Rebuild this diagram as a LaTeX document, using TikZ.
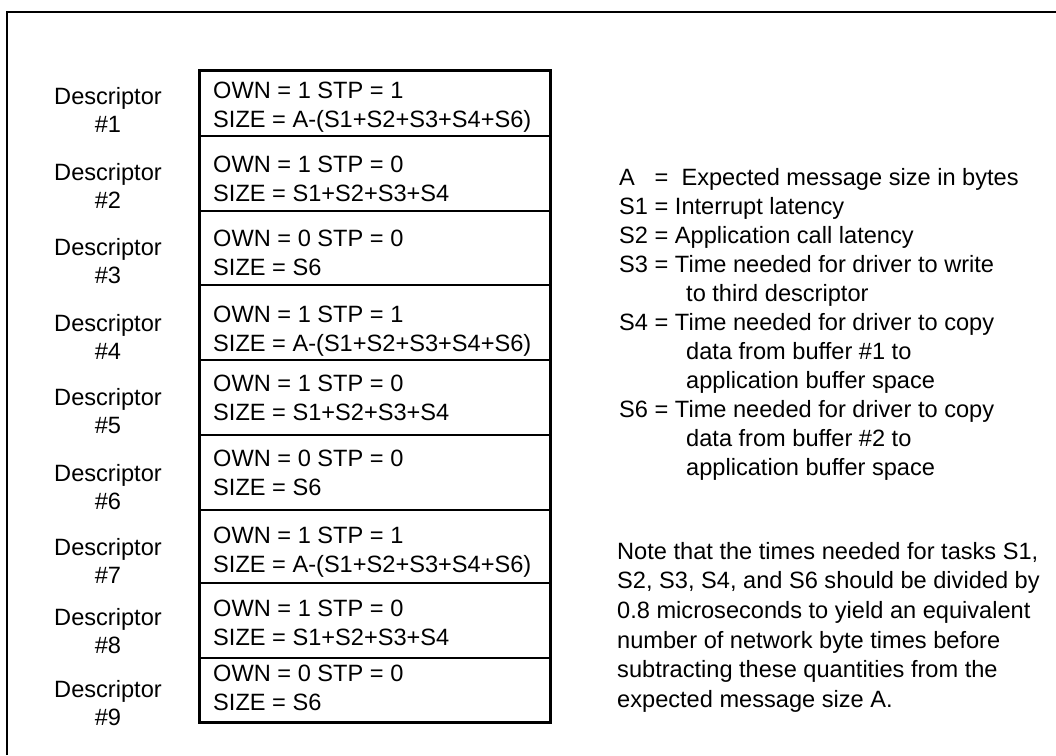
\documentclass[tikz,border=0pt]{standalone}
\usepackage{fontspec}
\setmainfont{Liberation Sans}
\usepackage{tikz}
\usetikzlibrary{positioning}
\definecolor{inkcolor}{RGB}{0, 0, 0}

\begin{document}
\begin{tikzpicture}[
    x=1pt, y=-1pt,
    frame/.style={draw=inkcolor, line width=1.6pt},
    ring/.style={draw=inkcolor, line width=3pt},
    rule/.style={draw=inkcolor, line width=2.8pt},
    desc/.style={inner sep=0pt, align=center, anchor=north, font=\fontsize{23.6}{28}\selectfont},
    field/.style={inner sep=0pt, align=left, anchor=north west, font=\fontsize{23.6}{29}\selectfont},
    legend/.style={inner sep=0pt, align=left, anchor=north west, font=\fontsize{23.6}{29}\selectfont},
    note/.style={inner sep=0pt, align=left, anchor=north west, font=\fontsize{23.6}{29.6}\selectfont}
    ]
    \useasboundingbox (0,0) rectangle (1056,755);

    % Outer frame (runs off the page)
    \coordinate (fbl) at (7,755);
    \coordinate (ftl) at (7,12);
    \coordinate (ftr) at (1056,12);
    \draw[frame] (fbl) -- (ftl) -- (ftr);

    % Descriptor ring
    \coordinate (ringtl) at (199,70);
    \coordinate (ringbr) at (550,722);
    \draw[ring] (ringtl) rectangle (ringbr);
    \foreach \y in {136, 211, 285, 360, 435, 510, 583, 658} {
        \draw[rule] (199,\y) -- (550,\y);
      }

    % Descriptor labels
    \foreach \i/\y in {1/104, 2/180, 3/255, 4/331, 5/405, 6/481, 7/555, 8/625, 9/697} {
        \node[desc] (desc\i) at (108,\y-17) {Descriptor\\\#\i};
      }

    % Descriptor fields
    \foreach \i/\y/\own/\size in {1/99/1/A-(S1+S2+S3+S4+S6), 2/173/0/S1+S2+S3+S4,
        4/323/1/A-(S1+S2+S3+S4+S6), 5/392/0/S1+S2+S3+S4,
        7/544/1/A-(S1+S2+S3+S4+S6), 8/617/0/S1+S2+S3+S4} {
        \node[field] (fld\i) at (213,\y-17) {OWN = 1 STP = \own\\SIZE = \size};
      }
    \foreach \i/\y in {3/247, 6/467, 9/682} {
        \node[field] (fld\i) at (213,\y-17) {OWN = 0 STP = 0\\SIZE = S6};
      }

    % Legend
    \node[legend] (key) at (619,168) {%
      \rlap{A}\hphantom{S1} = \ Expected message size in bytes\\
      S1 = Interrupt latency\\
      S2 = Application call latency\\
      S3 = Time needed for driver to write\\
      \hspace*{67pt}to third descriptor\\
      S4 = Time needed for driver to copy\\
      \hspace*{67pt}data from buffer \#1 to\\
      \hspace*{67pt}application buffer space\\
      S6 = Time needed for driver to copy\\
      \hspace*{67pt}data from buffer \#2 to\\
      \hspace*{67pt}application buffer space};

    % Note
    \node[note] (remark) at (617,542) {%
      Note that the times needed for tasks S1,\\
      S2, S3, S4, and S6 should be divided by\\
      0.8 microseconds to yield an equivalent\\
      number of network byte times before\\
      subtracting these quantities from the\\
      expected message size A.};
  \end{tikzpicture}
\end{document}
